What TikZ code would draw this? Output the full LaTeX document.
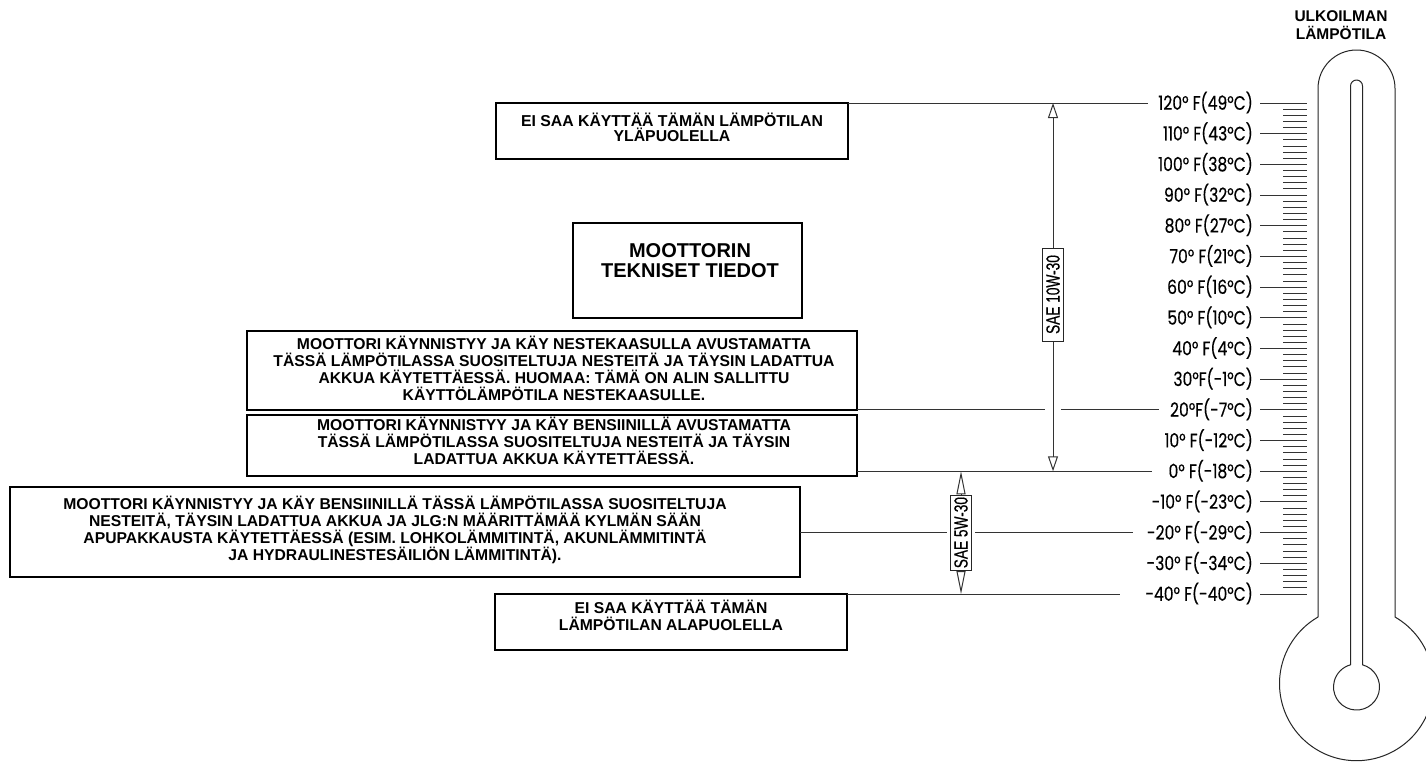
\documentclass[tikz,border=0pt]{standalone}
\usepackage{fontspec}
\setmainfont{Liberation Sans}
\newfontfamily\poppins[FakeBold=0.4]{Poppins}
\newfontfamily\saefont[FakeBold=0.6]{Liberation Sans}
\usetikzlibrary{arrows.meta,calc}
\newcommand{\lbltext}[1]{\scalebox{0.8}[1]{#1}}
\newcommand{\saetext}[1]{\scalebox{0.72}[1]{#1}}
\begin{document}
\begin{tikzpicture}[x=1pt,y=-1pt,
  box/.style={draw=black,line width=2pt,inner sep=0pt,outer sep=0pt,anchor=north west},
  btxt/.style={font=\bfseries\fontsize{15.7}{17}\selectfont,align=center,inner sep=0pt,anchor=north},
  lbl/.style={font=\poppins\fontsize{19.5}{20}\selectfont,anchor=east,inner xsep=7pt,inner ysep=0pt,text height=13.6pt,text depth=0pt},
  conn/.style={line width=1pt,draw=black!80},
  tickline/.style={line width=0.9pt,draw=black!80},
  therm/.style={line width=1pt,draw=black!85,line join=round},
  sae/.style={draw=black!85,line width=1pt,fill=white,rotate=90,inner sep=0pt,minimum height=21pt,font=\saefont\fontsize{19}{19}\selectfont},
  tipA/.tip={Triangle[open,length=15pt,width=10pt]},
  tipB/.tip={Triangle[open,length=23pt,width=9pt]}
]
\useasboundingbox (0,0) rectangle (1426,761);
\fill[white] (0,0) rectangle (1426,761);
\clip (0,0) rectangle (1426,761);

% thermometer
\draw[therm] (1318,617) -- (1318,88.5) arc[start angle=180,end angle=360,radius=38.5]
  -- (1395,617) arc[start angle=-60,end angle=240,radius=77] -- cycle;
\draw[therm] (1362.5,86) -- (1362.5,664.8) arc[start angle=285.1,end angle=614.9,radius=23]
  -- (1350.5,86) arc[start angle=180,end angle=360,radius=6] -- cycle;
\foreach \i in {0,...,80} \draw[tickline] (1283,{103+\i*6.1375}) -- (1307,{103+\i*6.1375});

% title
\node[font=\bfseries\fontsize{15.5}{18}\selectfont,align=center,inner sep=0pt,anchor=north] (title) at (1341,10) {ULKOILMAN\\LÄMPÖTILA};

% scale labels
\foreach \t [count=\k from 0] in {120° F(49°C),110° F(43°C),100° F(38°C),90° F(32°C),80° F(27°C),70° F(21°C),60° F(16°C),50° F(10°C),40° F(4°C),30°F(-1°C),20°F(-7°C),10° F(-12°C),0° F(-18°C),-10° F(-23°C),-20° F(-29°C),-30° F(-34°C),-40° F(-40°C)}
  \node[lbl] (l\k) at (1260,{103+\k*30.6875}) {\lbltext{\t}};
\foreach \k in {0,...,16} \draw[conn] (l\k.east) -- ++(47,0);

% boxes
\node[box,minimum width=352pt,minimum height=56pt] (b1) at (496,103) {};
\node[box,minimum width=229pt,minimum height=95pt] (b2) at (573,223) {};
\node[box,minimum width=610pt,minimum height=79pt] (b3) at (247,331) {};
\node[box,minimum width=610pt,minimum height=61pt] (b4) at (247,415) {};
\node[box,minimum width=790pt,minimum height=90pt] (b5) at (10,487) {};
\node[box,minimum width=352pt,minimum height=56pt] (b6) at (495,594) {};

\node[btxt,font=\bfseries\fontsize{15.8}{15.5}\selectfont] (t1) at (672,112.8) {EI SAA KÄYTTÄÄ TÄMÄN LÄMPÖTILAN\\YLÄPUOLELLA};
\node[btxt,font=\bfseries\fontsize{20}{20.5}\selectfont] (t2) at (690,243) {MOOTTORIN\\TEKNISET TIEDOT};
\node[btxt] (t3) at (554,335.5) {MOOTTORI KÄYNNISTYY JA KÄY NESTEKAASULLA AVUSTAMATTA\\TÄSSÄ LÄMPÖTILASSA SUOSITELTUJA NESTEITÄ JA TÄYSIN LADATTUA\\AKKUA KÄYTETTÄESSÄ. HUOMAA: TÄMÄ ON ALIN SALLITTU\\KÄYTTÖLÄMPÖTILA NESTEKAASULLE.};
\node[btxt] (t4) at (554,416.5) {MOOTTORI KÄYNNISTYY JA KÄY BENSIINILLÄ AVUSTAMATTA\\TÄSSÄ LÄMPÖTILASSA SUOSITELTUJA NESTEITÄ JA TÄYSIN\\LADATTUA AKKUA KÄYTETTÄESSÄ.};
\node[btxt] (t5) at (395,495.5) {MOOTTORI KÄYNNISTYY JA KÄY BENSIINILLÄ TÄSSÄ LÄMPÖTILASSA SUOSITELTUJA\\NESTEITÄ, TÄYSIN LADATTUA AKKUA JA JLG:N MÄÄRITTÄMÄÄ KYLMÄN SÄÄN\\APUPAKKAUSTA KÄYTETTÄESSÄ (ESIM. LOHKOLÄMMITINTÄ, AKUNLÄMMITINTÄ\\JA HYDRAULINESTESÄILIÖN LÄMMITINTÄ).};
\node[btxt] (t6) at (671,599.5) {EI SAA KÄYTTÄÄ TÄMÄN\\LÄMPÖTILAN ALAPUOLELLA};

% arrow coordinates
\coordinate (a1t) at (1053,103);
\coordinate (a1b) at (1053,471.25);
\coordinate (a2t) at (961,471.25);
\coordinate (a2b) at (961,594);

% connectors
\draw[conn] (b1.north east |- l0.west) -- ([xshift=-3pt]l0.west);
\draw[conn] (b3.south east |- l10.west) -- ($(a1t |- l10.west)+(-8,0)$);
\draw[conn] ($(a1t |- l10.west)+(8,0)$) -- ([xshift=-4pt]l10.west);
\draw[conn] (b4.east |- l12.west) -- ([xshift=-9pt]l12.west);
\draw[conn] (b5.east |- l14.west) -- ($(a2t |- l14.west)+(-14,0)$);
\draw[conn] ($(a2t |- l14.west)+(14,0)$) -- ([xshift=-7pt]l14.west);
\draw[conn] (b6.north east |- l16.west) -- ([xshift=-18pt]l16.west);

% oil arrows
\draw[conn,arrows={tipA-tipA}] (a1t) -- (a1b);
\node[sae,minimum width=93pt] (s1) at (1053,294.5) {\saetext{SAE 10W-30}};
\draw[conn,arrows={tipB-tipB}] (a2t) -- (a2b);
\node[sae,minimum width=75pt] (s2) at (961,532.6) {\saetext{SAE 5W-30}};
\end{tikzpicture}
\end{document}
